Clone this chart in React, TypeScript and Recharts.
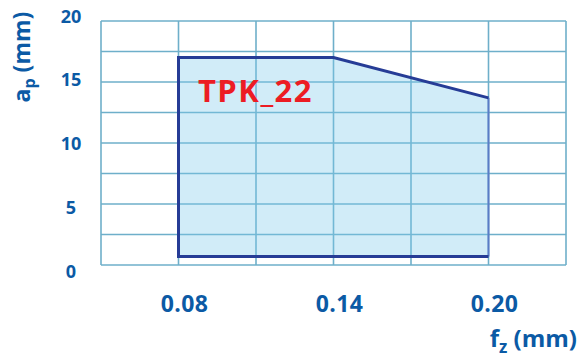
import {
  ComposedChart, Area, Line, XAxis, YAxis, CartesianGrid, ReferenceDot,
} from 'recharts';

// feed per tooth fz (mm) – grid every 0.03, labels on 0.08 / 0.14 / 0.20
const fzTicks = [0.05, 0.08, 0.11, 0.14, 0.17, 0.2, 0.23];
const fzLabels = ['0.08', '0.14', '0.20'];

// depth of cut ap (mm) – grid every 2.5, labels every 5
const apTicks = [0, 2.5, 5, 7.5, 10, 12.5, 15, 17.5, 20];
const apLabels = [0, 5, 10, 15, 20];

// working envelope for TPK_22
const envFz = [0.08, 0.14, 0.2];
const envMin = [0.7, 0.7, 0.7];
const envMax = [17, 17, 13.7];

const toolName = 'TPK_22';
const labelPos = { fz: 0.0875, ap: 13.4 };

const BLUE = '#0b5aa5';
const GRID = '#6eafca';
const FONT = '"Open Sans", sans-serif';

const areaData = envFz.map((fz, i) => ({ fz, range: [envMin[i], envMax[i]] }));

// outline: bottom right -> bottom left -> top left -> along top
const outline = [
  { fz: envFz[2], ap: envMin[2] },
  { fz: envFz[0], ap: envMin[0] },
  ...envFz.map((fz, i) => ({ fz, ap: envMax[i] })),
];
const rightEdge = [
  { fz: envFz[2], ap: envMax[2] },
  { fz: envFz[2], ap: envMin[2] },
];

const XTick = ({ x, y, payload }: any) => {
  const txt = Number(payload.value).toFixed(2);
  if (!fzLabels.includes(txt)) return null;
  return (
    <text x={x + 6} y={y + 47} textAnchor="middle" fill={BLUE}
      fontFamily={FONT} fontWeight={700} fontSize={23} letterSpacing={0.4}>
      {txt}
    </text>
  );
};

const YTick = ({ x, y, payload }: any) => {
  const v = Number(payload.value);
  if (!apLabels.includes(v)) return null;
  return (
    <text x={x - 30} y={y + (10 - v) * 0.55} textAnchor="middle" dominantBaseline="central"
      fill={BLUE} fontFamily={FONT} fontWeight={700} fontSize={18}>
      {v}
    </text>
  );
};

const YTitle = ({ viewBox }: any) => {
  const cx = viewBox.x + 30;
  const cy = 57;
  return (
    <text x={cx} y={cy} transform={`rotate(-90, ${cx}, ${cy})`} textAnchor="middle"
      fill={BLUE} fontFamily={FONT} fontWeight={700} fontSize={23}>
      a<tspan fontSize={16} dy={5}>p</tspan><tspan dy={-5}> (mm)</tspan>
    </text>
  );
};

const XTitle = ({ viewBox }: any) => (
  <text x={viewBox.x + viewBox.width + 11} y={viewBox.y + 82} textAnchor="end"
    fill={BLUE} fontFamily={FONT} fontWeight={700} fontSize={24}>
    f<tspan fontSize={17} dy={6}>z</tspan><tspan dy={-6}> (mm)</tspan>
  </text>
);

const ToolLabel = ({ viewBox }: any) => (
  <text x={viewBox.x} y={viewBox.y} fill="#ec1c24" fontFamily={FONT}
    fontWeight={700} fontSize={31} letterSpacing={1.5}>
    {toolName}
  </text>
);

export default function App() {
  return (
    <div style={{ position: 'absolute', left: 0, top: 0, background: '#fff' }}>
      <ComposedChart width={578} height={358} data={areaData}
        margin={{ top: 21, right: 12, bottom: 0, left: 0 }}>
        <CartesianGrid stroke={GRID} strokeWidth={1.6} />
        <XAxis
          type="number"
          dataKey="fz"
          domain={[0.05, 0.23]}
          ticks={fzTicks}
          height={93}
          axisLine={false}
          tickLine={false}
          tickSize={0}
          tickMargin={0}
          tick={<XTick />}
          interval={0}
          label={<XTitle />}
        />
        <YAxis
          type="number"
          domain={[0, 20]}
          ticks={apTicks}
          width={101}
          axisLine={false}
          tickLine={false}
          tickSize={0}
          tickMargin={0}
          tick={<YTick />}
          interval={0}
          label={<YTitle />}
        />
        {/* translucent fill so the grid shows through, as in the original */}
        <Area
          type="linear"
          dataKey="range"
          fill="#7cc8ec"
          fillOpacity={0.35}
          stroke="none"
          isAnimationActive={false}
        />
        <Line
          data={rightEdge}
          type="linear"
          dataKey="ap"
          stroke="#5b7cc6"
          strokeWidth={2}
          dot={false}
          isAnimationActive={false}
        />
        <Line
          data={outline}
          type="linear"
          dataKey="ap"
          stroke="#263c96"
          strokeWidth={3}
          strokeLinejoin="miter"
          dot={false}
          isAnimationActive={false}
        />
        <ReferenceDot x={labelPos.fz} y={labelPos.ap} r={0} stroke="none" fill="none"
          label={<ToolLabel />} />
      </ComposedChart>
    </div>
  );
}
